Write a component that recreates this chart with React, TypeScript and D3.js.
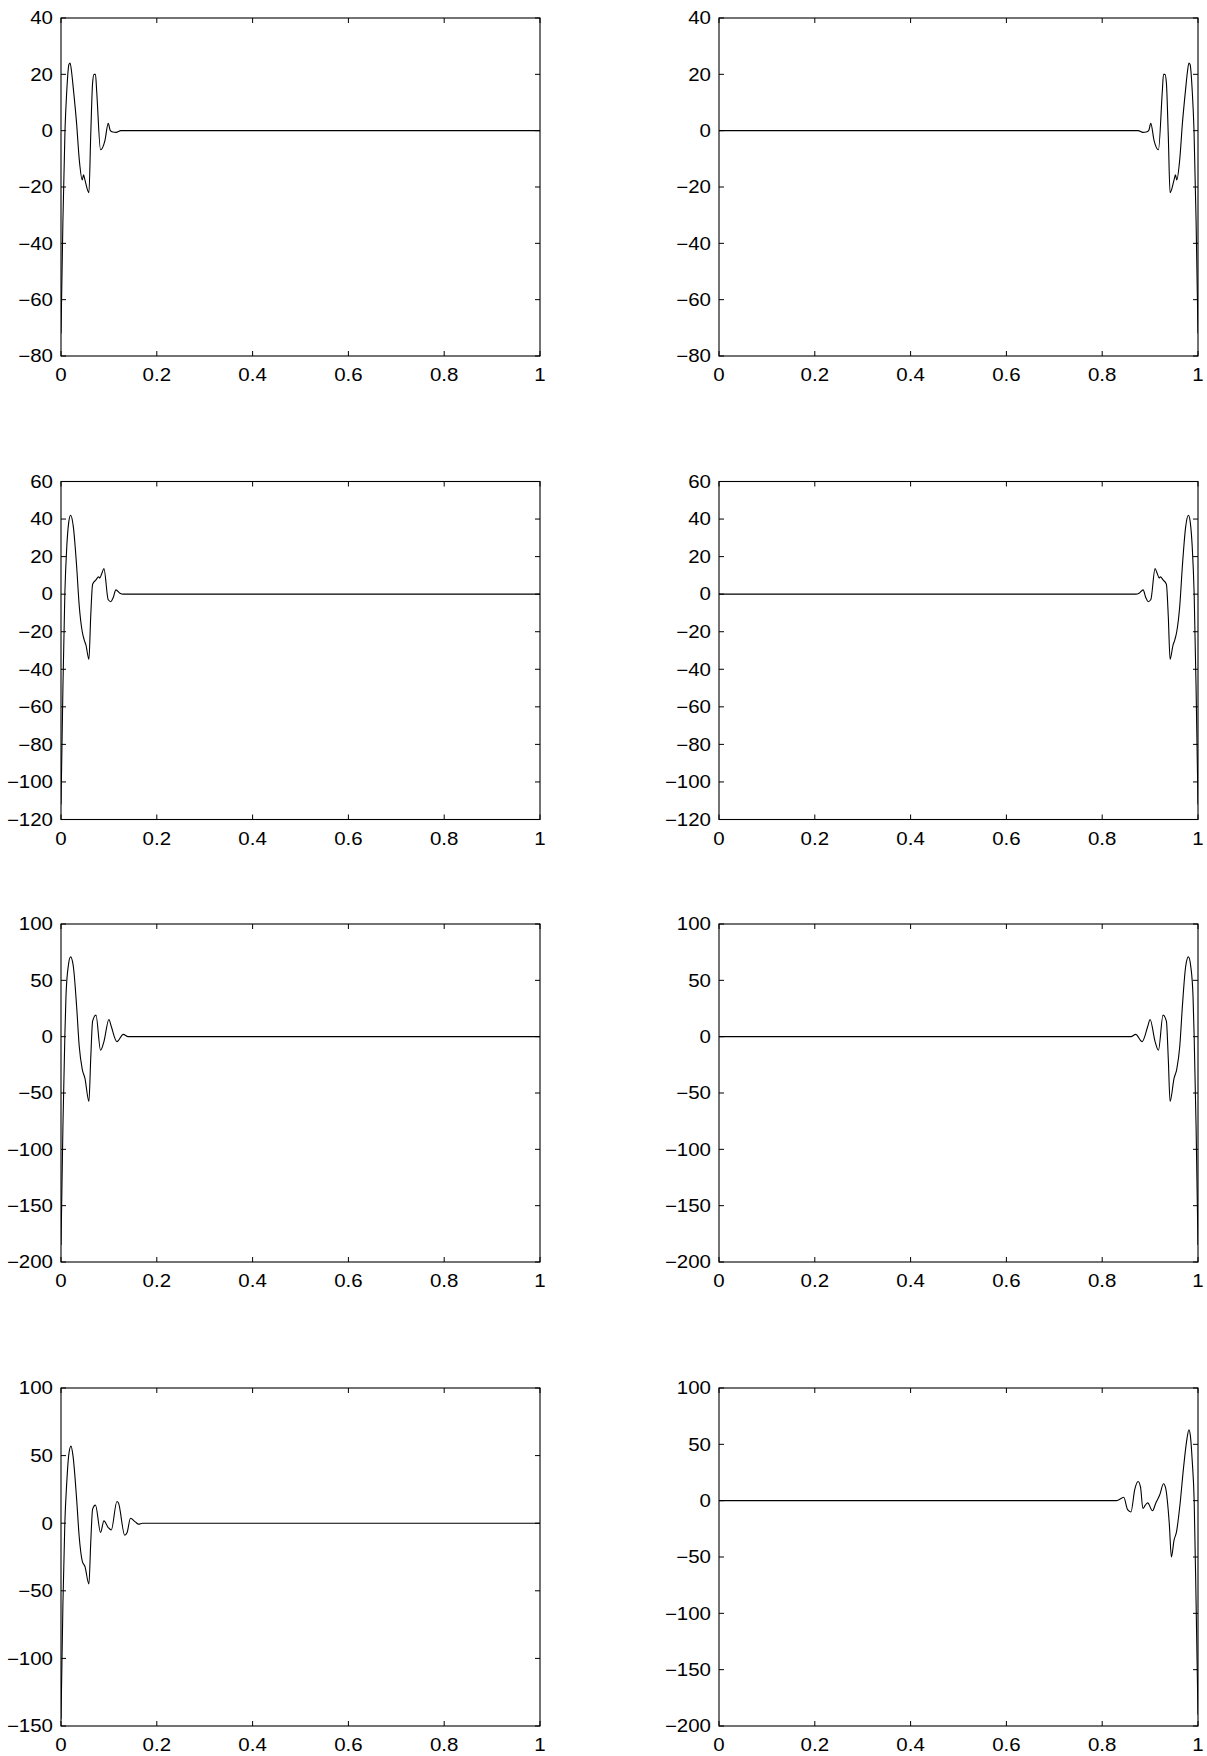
import React from "react";
import * as d3 from "d3";

type Pt = [number, number];

const xTicks = [0, 0.2, 0.4, 0.6, 0.8, 1];
const yTicksRow1 = [-80, -60, -40, -20, 0, 20, 40];
const yTicksRow2 = [-120, -100, -80, -60, -40, -20, 0, 20, 40, 60];
const yTicksRow3 = [-200, -150, -100, -50, 0, 50, 100];
const yTicksRow4L = [-150, -100, -50, 0, 50, 100];
const yTicksRow4R = [-200, -150, -100, -50, 0, 50, 100];

const curve1L: Pt[] = [[0,-72],[0.004,-32],[0.0083,0],[0.012,14],[0.0165,23.5],[0.019,24],[0.022,21],[0.0257,15],[0.0326,2.5],[0.038,-10],[0.0444,-17.5],[0.047,-15.7],[0.05,-17.5],[0.0583,-22],[0.062,-2],[0.066,17],[0.069,20],[0.072,20],[0.0745,14],[0.0826,-6.8],[0.0917,-3.5],[0.0986,2.6],[0.103,0],[0.108,-0.5],[0.115,-0.6],[0.125,0],[1,0]];
const curve1R: Pt[] = [[0,0],[0.875,0],[0.885,-0.6],[0.892,-0.5],[0.897,0],[0.9014,2.6],[0.9083,-3.5],[0.9174,-6.8],[0.9255,14],[0.928,20],[0.931,20],[0.934,17],[0.938,-2],[0.9417,-22],[0.95,-17.5],[0.953,-15.7],[0.9556,-17.5],[0.962,-10],[0.9674,2.5],[0.9743,15],[0.978,21],[0.981,24],[0.9835,23.5],[0.988,14],[0.9917,0],[0.996,-32],[1,-72]];
const curve2L: Pt[] = [[0,-112],[0.004,-50],[0.008,0],[0.012,25],[0.016,38],[0.02,42],[0.0257,36],[0.0326,15],[0.038,-6],[0.0444,-20],[0.0486,-24.5],[0.052,-27],[0.0583,-34.7],[0.062,-12],[0.066,5.3],[0.073,7.6],[0.0785,9.3],[0.081,8.6],[0.0847,10.7],[0.0896,13.6],[0.0986,-3],[0.104,-4],[0.109,-1.8],[0.1146,2.3],[0.123,0.5],[0.13,0],[1,0]];
const curve2R: Pt[] = [[0,0],[0.87,0],[0.877,0.5],[0.8854,2.3],[0.891,-1.8],[0.896,-4],[0.9014,-3],[0.9104,13.6],[0.9153,10.7],[0.919,8.6],[0.9215,9.3],[0.927,7.6],[0.934,5.3],[0.938,-12],[0.9417,-34.7],[0.948,-27],[0.9514,-24.5],[0.9556,-20],[0.962,-6],[0.9674,15],[0.9743,36],[0.98,42],[0.984,38],[0.988,25],[0.992,0],[0.996,-50],[1,-112]];
const curve3L: Pt[] = [[0,-185],[0.004,-80],[0.008,0],[0.0104,36],[0.015,62],[0.02,70.8],[0.0257,62.5],[0.0326,27],[0.038,-8.3],[0.0444,-29],[0.05,-37],[0.0583,-57.5],[0.062,-20],[0.066,13.8],[0.073,19.1],[0.0826,-12.1],[0.0896,-4.4],[0.1,15.3],[0.105,9],[0.1167,-4.4],[0.13,2],[0.14,0],[1,0]];
const curve3R: Pt[] = [[0,0],[0.86,0],[0.87,2],[0.8833,-4.4],[0.895,9],[0.9,15.3],[0.9104,-4.4],[0.9174,-12.1],[0.927,19.1],[0.934,13.8],[0.938,-20],[0.9417,-57.5],[0.95,-37],[0.9556,-29],[0.962,-8.3],[0.9674,27],[0.9743,62.5],[0.98,70.8],[0.985,62],[0.9896,36],[0.992,0],[0.996,-80],[1,-185]];
const curve4L: Pt[] = [[0,-145],[0.004,-60],[0.008,0],[0.012,30],[0.016,50],[0.0208,57],[0.025,50],[0.0326,18],[0.038,-10],[0.0444,-28],[0.05,-32],[0.0583,-45],[0.062,-15],[0.066,10.4],[0.072,13.4],[0.0826,-6.9],[0.0896,1.7],[0.0986,-3.2],[0.105,-5],[0.1167,16.1],[0.12,15],[0.133,-8.9],[0.138,-6.9],[0.145,3.7],[0.155,1],[0.162,-0.7],[0.17,0],[1,0]];
const curve4R: Pt[] = [[0,0],[0.83,0],[0.845,3],[0.853,-8],[0.86,-10],[0.868,10],[0.875,17],[0.88,12],[0.885,-7],[0.89,-4],[0.895,-2],[0.905,-9],[0.912,-2],[0.92,5],[0.928,15],[0.932,12],[0.94,-20],[0.9445,-50],[0.95,-35],[0.955,-28],[0.962,-5],[0.97,30],[0.977,55],[0.981,63],[0.984,58],[0.988,35],[0.992,0],[0.996,-90],[1,-190]];

const W = 1207;
const H = 1756;
const colX = [61, 719];
const plotW = 479;
const rowY = [18, 481.5, 924, 1388];
const plotH = 338;
const FONT = "Liberation Sans, Arial, Helvetica, sans-serif";
const FS = 17.5;
const SX = 1.17;

const panels = [
  { row: 0, col: 0, data: curve1L, yTicks: yTicksRow1 },
  { row: 0, col: 1, data: curve1R, yTicks: yTicksRow1 },
  { row: 1, col: 0, data: curve2L, yTicks: yTicksRow2 },
  { row: 1, col: 1, data: curve2R, yTicks: yTicksRow2 },
  { row: 2, col: 0, data: curve3L, yTicks: yTicksRow3 },
  { row: 2, col: 1, data: curve3R, yTicks: yTicksRow3 },
  { row: 3, col: 0, data: curve4L, yTicks: yTicksRow4L },
  { row: 3, col: 1, data: curve4R, yTicks: yTicksRow4R },
];

const fmt = (v: number) => {
  const s = String(v);
  return s.startsWith("-") ? "\u2212" + s.slice(1) : s;
};

function Panel({ row, col, data, yTicks }: { row: number; col: number; data: Pt[]; yTicks: number[] }) {
  const x0 = colX[col];
  const y0 = rowY[row];
  const x = d3.scaleLinear().domain([0, 1]).range([0, plotW]);
  const y = d3.scaleLinear().domain([yTicks[0], yTicks[yTicks.length - 1]]).range([plotH, 0]);
  const sorted = [...data].sort((a, b) => a[0] - b[0]);
  const line = d3.line<Pt>().x((d) => x(d[0])).y((d) => y(d[1])).curve(d3.curveMonotoneX);
  const tl = 5;
  return (
    <g transform={`translate(${x0},${y0})`}>
      <defs>
        <clipPath id={`clip-${row}-${col}`}>
          <rect x={0} y={0} width={plotW} height={plotH} />
        </clipPath>
      </defs>
      <path d={line(sorted) || ""} fill="none" stroke="#000" strokeWidth={1.1} clipPath={`url(#clip-${row}-${col})`} />
      <rect x={0} y={0} width={plotW} height={plotH} fill="none" stroke="#000" strokeWidth={1.1} />
      {xTicks.map((t) => (
        <g key={"x" + t}>
          <line x1={x(t)} x2={x(t)} y1={plotH} y2={plotH - tl} stroke="#000" strokeWidth={1} />
          <line x1={x(t)} x2={x(t)} y1={0} y2={tl} stroke="#000" strokeWidth={1} />
          <text transform={`translate(${x(t)},${plotH + 25}) scale(${SX},1)`} textAnchor="middle" fontSize={FS} fontFamily={FONT}>
            {fmt(t)}
          </text>
        </g>
      ))}
      {yTicks.map((t) => (
        <g key={"y" + t}>
          <line x1={0} x2={tl} y1={y(t)} y2={y(t)} stroke="#000" strokeWidth={1} />
          <line x1={plotW} x2={plotW - tl} y1={y(t)} y2={y(t)} stroke="#000" strokeWidth={1} />
          <text transform={`translate(-8,${y(t)}) scale(${SX},1)`} dy="0.36em" textAnchor="end" fontSize={FS} fontFamily={FONT}>
            {fmt(t)}
          </text>
        </g>
      ))}
    </g>
  );
}

export default function App() {
  return (
    <svg width={W} height={H} style={{ position: "absolute", left: 0, top: 0, background: "#fff" }}>
      <rect x={0} y={0} width={W} height={H} fill="#fff" />
      {panels.map((p) => (
        <Panel key={`${p.row}-${p.col}`} {...p} />
      ))}
    </svg>
  );
}
